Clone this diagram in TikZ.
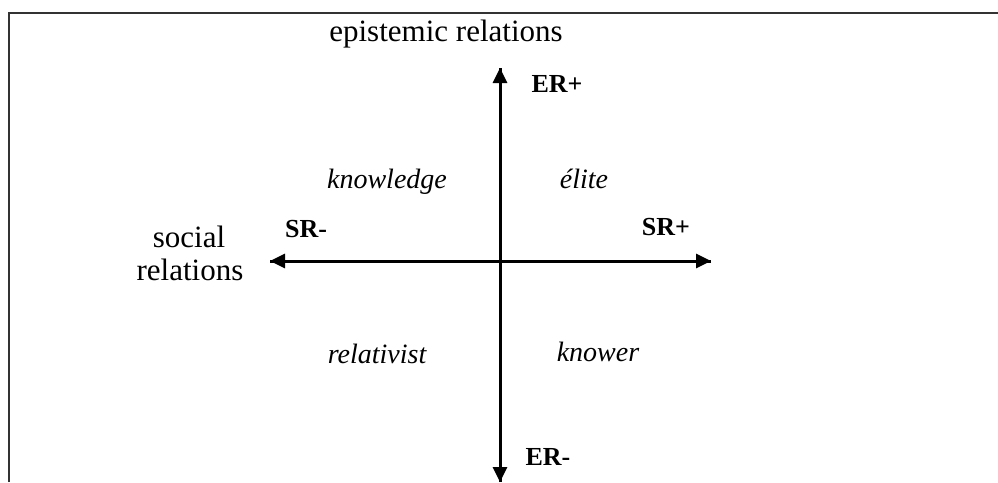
\documentclass[tikz,border=0pt]{standalone}
\usepackage{fontspec}
\setmainfont{Liberation Serif}
\usetikzlibrary{arrows.meta}
\begin{document}
\begin{tikzpicture}[x=1pt,y=-1pt,
  axis/.style={line width=3pt,-{Triangle[length=15pt,width=14pt]}},
  frameline/.style={line width=2pt,draw=black!80},
  bigtxt/.style={font=\fontsize{31}{36}\selectfont,inner sep=0pt,anchor=base},
  quad/.style={font=\fontsize{28}{32}\selectfont\itshape,inner sep=0pt,anchor=base},
  pole/.style={font=\fontsize{26}{30}\selectfont\bfseries,inner sep=0pt,anchor=base}]
\useasboundingbox (0,0) rectangle (998,482);
% frame (left and top edges)
\coordinate (fbl) at (9,482);
\coordinate (ftl) at (9,13);
\coordinate (ftr) at (998,13);
\draw[frameline] (fbl) -- (ftl) -- (ftr);
% axes
\coordinate (ctop) at (500,68);
\coordinate (cbot) at (500,482);
\coordinate (cleft) at (270,261);
\coordinate (cright) at (711,261);
\draw[axis] (cbot) -- (ctop);
\draw[axis] (ctop) -- (cbot);
\draw[axis] (cright) -- (cleft);
\draw[axis] (cleft) -- (cright);
% labels
\node[bigtxt] (ep) at (446,41) {epistemic relations};
\node[bigtxt] (so) at (189,247) {social};
\node[bigtxt] (rel) at (190,280) {relations};
\node[pole] (erp) at (557,92) {ER+};
\node[pole] (erm) at (548,465) {ER-};
\node[pole] (srp) at (666,235) {SR+};
\node[pole] (srm) at (306,237) {SR-};
\node[quad] (kn) at (387,188) {knowledge};
\node[quad] (el) at (584,188) {élite};
\node[quad] (rv) at (377,363) {relativist};
\node[quad] (kw) at (598,361) {knower};
\end{tikzpicture}
\end{document}
